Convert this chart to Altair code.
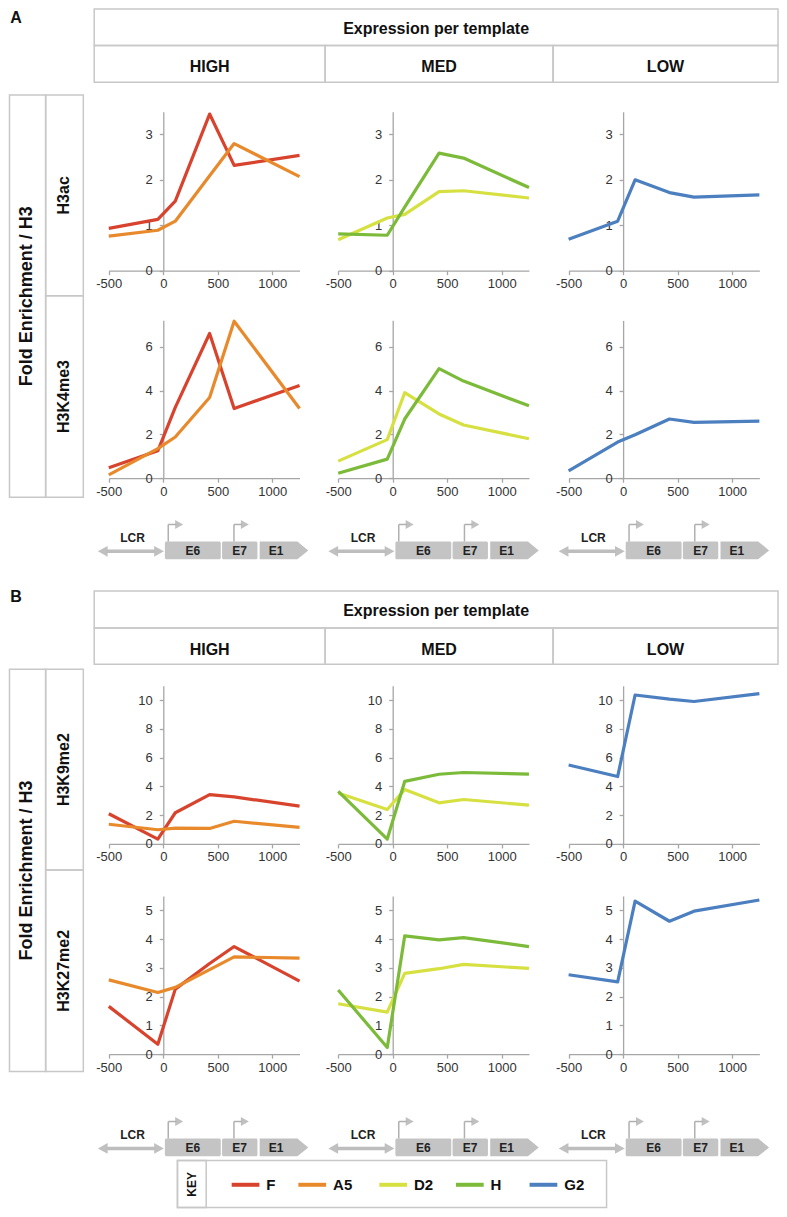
import altair as alt
import pandas as pd

# ---------------- values ----------------
POSITIONS = [-500, -50, 110, 425, 650, 1250]          # x positions (bp)
SERIES = ["F", "A5", "D2", "H", "G2"]
SERIES_COLORS = ["#d8432e", "#e88a2c", "#d6e141", "#7cba3a", "#4c7fbf"]
LEVELS = ["HIGH", "MED", "LOW"]
LEVEL_SERIES = [["F", "A5"], ["D2", "H"], ["G2"]]
GENE_LABELS = ["E6", "E7", "E1"]
X_TICKS = [-500, 0, 500, 1000]

H3AC_F = [0.93, 1.13, 1.53, 3.45, 2.32, 2.54]
H3AC_A5 = [0.76, 0.89, 1.09, 2.09, 2.80, 2.07]
H3AC_D2 = [0.68, 1.16, 1.24, 1.74, 1.76, 1.60]
H3AC_H = [0.81, 0.78, 1.40, 2.59, 2.48, 1.83]
H3AC_G2 = [0.69, 1.09, 2.00, 1.72, 1.62, 1.67]

H3K4ME3_F = [0.48, 1.25, 3.23, 6.60, 3.18, 4.23]
H3K4ME3_A5 = [0.15, 1.35, 1.88, 3.68, 7.16, 3.18]
H3K4ME3_D2 = [0.78, 1.76, 3.90, 2.93, 2.43, 1.80]
H3K4ME3_H = [0.23, 0.87, 2.70, 5.00, 4.43, 3.30]
H3K4ME3_G2 = [0.33, 1.65, 1.98, 2.70, 2.55, 2.60]

H3K9ME2_F = [2.10, 0.34, 2.17, 3.43, 3.27, 2.63]
H3K9ME2_A5 = [1.37, 0.99, 1.10, 1.08, 1.58, 1.15]
H3K9ME2_D2 = [3.55, 2.40, 3.78, 2.86, 3.09, 2.70]
H3K9ME2_H = [3.66, 0.34, 4.35, 4.85, 4.97, 4.85]
H3K9ME2_G2 = [5.49, 4.69, 10.36, 10.07, 9.91, 10.46]

H3K27ME2_F = [1.66, 0.34, 2.26, 3.15, 3.74, 2.54]
H3K27ME2_A5 = [2.58, 2.14, 2.32, 2.94, 3.38, 3.34]
H3K27ME2_D2 = [1.75, 1.46, 2.81, 2.97, 3.12, 2.98]
H3K27ME2_H = [2.23, 0.23, 4.11, 3.97, 4.05, 3.74]
H3K27ME2_G2 = [2.76, 2.51, 5.32, 4.62, 4.97, 5.36]

SECTION_ROWS = [
    [("H3ac", {"F": H3AC_F, "A5": H3AC_A5, "D2": H3AC_D2, "H": H3AC_H, "G2": H3AC_G2}, 3.5, [0, 1, 2, 3]),
     ("H3K4me3", {"F": H3K4ME3_F, "A5": H3K4ME3_A5, "D2": H3K4ME3_D2, "H": H3K4ME3_H, "G2": H3K4ME3_G2}, 7.2, [0, 2, 4, 6])],
    [("H3K9me2", {"F": H3K9ME2_F, "A5": H3K9ME2_A5, "D2": H3K9ME2_D2, "H": H3K9ME2_H, "G2": H3K9ME2_G2}, 11, [0, 2, 4, 6, 8, 10]),
     ("H3K27me2", {"F": H3K27ME2_F, "A5": H3K27ME2_A5, "D2": H3K27ME2_D2, "H": H3K27ME2_H, "G2": H3K27ME2_G2}, 5.5, [0, 1, 2, 3, 4, 5])],
]

# ---------------- layout (reference pixel units) ----------------
FONT = "Liberation Sans"
W, H = 771, 1201
RX0, RX1 = 1.0, 779.0
RY0, RY1 = 1.0, 1216.0


def px(x):
    return (x - RX0) * W / (RX1 - RX0)


def py(y):
    return (y - RY0) * H / (RY1 - RY0)


BX = alt.Scale(domain=[RX0, RX1], range=[0, W], nice=False, zero=False)
BY = alt.Scale(domain=[RY0, RY1], range=[0, H], nice=False, zero=False)

PANEL_X0 = [102.7, 334.2, 566.7]
PANEL_W = 192.5
COL_EDGES = [88, 321, 551, 778]
COL_DX = [0.0, 232.6, 465.0]
SECTIONS = [
    dict(letter="A", letter_y=11, hdr=(2, 39, 76), rbox=(89, 292, 496),
         axes=[(266.7, 106.0), (476.7, 317.0)], gdy=0.0),
    dict(letter="B", letter_y=597, hdr=(590.7, 628.3, 665), rbox=(670, 873, 1077),
         axes=[(846.7, 686.7), (1059.3, 899.3)], gdy=604.0),
]

COLOR_SCALE = alt.Scale(domain=SERIES, range=SERIES_COLORS)
AXIS_COMMON = dict(grid=False, title=None, domainColor="#a6a6a6", domainWidth=1.3,
                   tickColor="#a6a6a6", tickWidth=1.3, tickSize=4, labelColor="#333333",
                   labelFont=FONT, labelFontSize=13, labelOverlap=False, labelFlush=False,
                   labelExpr="toString(datum.value)")

layers = []

# ---------- boxes ----------
box_rows = []
for s in SECTIONS:
    h0, h1, h2 = s["hdr"]
    r0, r1, r2 = s["rbox"]
    box_rows.append(dict(x=COL_EDGES[0], y=h0, x2=COL_EDGES[-1], y2=h1))
    for i in range(3):
        box_rows.append(dict(x=COL_EDGES[i], y=h1, x2=COL_EDGES[i + 1], y2=h2))
    box_rows.append(dict(x=2.5, y=r0, x2=39, y2=r2))
    box_rows.append(dict(x=39, y=r0, x2=77, y2=r1))
    box_rows.append(dict(x=39, y=r1, x2=77, y2=r2))
box_rows.append(dict(x=172, y=1167, x2=605, y2=1214.5))
box_rows.append(dict(x=172, y=1167, x2=201, y2=1214.5))
layers.append(
    alt.Chart(pd.DataFrame(box_rows)).mark_rect(filled=False, color="#c8c8c8", strokeWidth=1.5).encode(
        x=alt.X("x:Q", scale=BX, axis=None), x2="x2:Q",
        y=alt.Y("y:Q", scale=BY, axis=None), y2="y2:Q")
)

# ---------- gene diagrams ----------
gene_boxes, polys, thick, thin, gtext = [], [], [], [], []
for s in SECTIONS:
    dy = s["gdy"]
    for c, dx in enumerate(COL_DX):
        top, bot, mid = 540.7 + dy, 558.7 + dy, 549.7 + dy
        ay = 550.7 + dy
        gene_boxes.append(dict(x=159.3 + dx, x2=215.7 + dx, y=top, y2=bot))
        gene_boxes.append(dict(x=217.0 + dx, x2=252.7 + dx, y=top, y2=bot))
        pid = f"{s['letter']}{c}"
        polys += [dict(id=pid + "e1", x=255.0 + dx, y=top, y2=bot),
                  dict(id=pid + "e1", x=293.0 + dx, y=top, y2=bot),
                  dict(id=pid + "e1", x=304.0 + dx, y=mid, y2=mid)]
        polys += [dict(id=pid + "l", x=91.7 + dx, y=ay, y2=ay),
                  dict(id=pid + "l", x=101.5 + dx, y=ay - 5.5, y2=ay + 5.5),
                  dict(id=pid + "r", x=148.5 + dx, y=ay - 5.5, y2=ay + 5.5),
                  dict(id=pid + "r", x=158.3 + dx, y=ay, y2=ay)]
        thick.append(dict(x=100 + dx, x2=150 + dx, y=ay, y2=ay))
        for k, pxp in enumerate([162.7, 229.0]):
            ty = 523.5 + dy
            thin.append(dict(x=pxp + dx, x2=pxp + dx, y=ty, y2=top))
            thin.append(dict(x=pxp + dx, x2=pxp + 8 + dx, y=ty, y2=ty))
            polys += [dict(id=f"{pid}p{k}", x=pxp + 7 + dx, y=ty - 4.5, y2=ty + 4.5),
                      dict(id=f"{pid}p{k}", x=pxp + 15 + dx, y=ty, y2=ty)]
        gtext.append(dict(x=126.7 + dx, y=537.3 + dy, t="LCR"))
        for lab, cx in zip(GENE_LABELS, [187.5, 234.8, 271.5]):
            gtext.append(dict(x=cx + dx, y=550.5 + dy, t=lab))

layers.append(
    alt.Chart(pd.DataFrame(gene_boxes)).mark_rect(color="#c4c4c4", cornerRadius=1.5).encode(
        x=alt.X("x:Q", scale=BX, axis=None), x2="x2:Q",
        y=alt.Y("y:Q", scale=BY, axis=None), y2="y2:Q")
)
layers.append(
    alt.Chart(pd.DataFrame(polys)).mark_area(color="#c0c0c0", opacity=1).encode(
        x=alt.X("x:Q", scale=BX, axis=None),
        y=alt.Y("y:Q", scale=BY, axis=None), y2="y2:Q",
        detail="id:N")
)
layers.append(
    alt.Chart(pd.DataFrame(thick)).mark_rule(color="#bdbdbd", strokeWidth=3.5).encode(
        x=alt.X("x:Q", scale=BX, axis=None), x2="x2:Q",
        y=alt.Y("y:Q", scale=BY, axis=None), y2="y2:Q")
)
layers.append(
    alt.Chart(pd.DataFrame(thin)).mark_rule(color="#b0b0b0", strokeWidth=1.5).encode(
        x=alt.X("x:Q", scale=BX, axis=None), x2="x2:Q",
        y=alt.Y("y:Q", scale=BY, axis=None), y2="y2:Q")
)


# ---------- texts ----------
def text_layer(rows, color="#111111", **kw):
    return alt.Chart(pd.DataFrame(rows)).mark_text(font=FONT, fontWeight="bold", color=color,
                                                   baseline="middle", **kw).encode(
        x=alt.X("x:Q", scale=BX, axis=None),
        y=alt.Y("y:Q", scale=BY, axis=None),
        text="t:N")


layers.append(text_layer(gtext, fontSize=12, align="center", color="#222222"))

letters, headers, group_lbl, row_lbl = [], [], [], []
for si, s in enumerate(SECTIONS):
    h0, h1, h2 = s["hdr"]
    r0, r1, r2 = s["rbox"]
    letters.append(dict(x=9, y=s["letter_y"], t=s["letter"]))
    headers.append(dict(x=(COL_EDGES[0] + COL_EDGES[-1]) / 2, y=(h0 + h1) / 2 + 1.5, t="Expression per template"))
    for i, lev in enumerate(LEVELS):
        headers.append(dict(x=(COL_EDGES[i] + COL_EDGES[i + 1]) / 2, y=(h1 + h2) / 2 + 3.5, t=lev))
    group_lbl.append(dict(x=20.5, y=(r0 + r2) / 2, t="Fold Enrichment / H3"))
    row_lbl.append(dict(x=58, y=(r0 + r1) / 2, t=SECTION_ROWS[si][0][0]))
    row_lbl.append(dict(x=58, y=(r1 + r2) / 2, t=SECTION_ROWS[si][1][0]))

layers.append(text_layer(letters, fontSize=16, align="center"))
layers.append(text_layer(headers, fontSize=16, align="center"))
layers.append(text_layer(group_lbl, fontSize=18, align="center", angle=270))
layers.append(text_layer(row_lbl, fontSize=16, align="center", angle=270))

# ---------- key ----------
LEGEND_X = [226.7, 294.0, 375.7, 453.0, 527.3]
LEG_Y = 1191.5
leg_lines = [dict(x=lx, x2=lx + 28, y=LEG_Y, y2=LEG_Y, series=sname) for lx, sname in zip(LEGEND_X, SERIES)]
leg_text = [dict(x=lx + 35, y=LEG_Y + 0.5, t=sname) for lx, sname in zip(LEGEND_X, SERIES)]
layers.append(
    alt.Chart(pd.DataFrame(leg_lines)).mark_rule(strokeWidth=4).encode(
        x=alt.X("x:Q", scale=BX, axis=None), x2="x2:Q",
        y=alt.Y("y:Q", scale=BY, axis=None), y2="y2:Q",
        color=alt.Color("series:N", scale=COLOR_SCALE, legend=None))
)
layers.append(text_layer(leg_text, fontSize=15, align="left"))
layers.append(text_layer([dict(x=187, y=1191, t="KEY")], fontSize=12, align="center", angle=270))

# ---------- line panels ----------
for si, s in enumerate(SECTIONS):
    for ri, (mark_name, values, ymax, yticks) in enumerate(SECTION_ROWS[si]):
        y0, ytop = s["axes"][ri]
        for c in range(3):
            rows = []
            for sname in LEVEL_SERIES[c]:
                for p, v in zip(POSITIONS, values[sname]):
                    rows.append(dict(pos=p, val=v, series=sname))
            x0 = PANEL_X0[c]
            zero_x = x0 + PANEL_W * 500 / 1750
            xs = alt.Scale(domain=[-500, 1250], range=[px(x0), px(x0 + PANEL_W)], nice=False, zero=False)
            ys = alt.Scale(domain=[0, ymax], range=[py(y0), py(ytop)], nice=False, zero=False)
            layers.append(
                alt.Chart(pd.DataFrame(rows)).mark_line(strokeWidth=3.2, strokeJoin="round").encode(
                    x=alt.X("pos:Q", scale=xs,
                            axis=alt.Axis(orient="bottom", offset=py(y0) - H, values=X_TICKS,
                                          labelPadding=3, **AXIS_COMMON)),
                    y=alt.Y("val:Q", scale=ys,
                            axis=alt.Axis(orient="left", offset=-px(zero_x), values=yticks,
                                          labelPadding=7, **AXIS_COMMON)),
                    color=alt.Color("series:N", scale=COLOR_SCALE, legend=None),
                )
            )

chart = alt.layer(*layers).resolve_scale(
    x="independent", y="independent", color="shared"
).resolve_axis(
    x="independent", y="independent"
).properties(
    width=W, height=H, padding=0, autosize="none", background="white"
).configure_view(stroke=None)

chart.save("out.html", embed_options={"renderer": "svg", "actions": False})
